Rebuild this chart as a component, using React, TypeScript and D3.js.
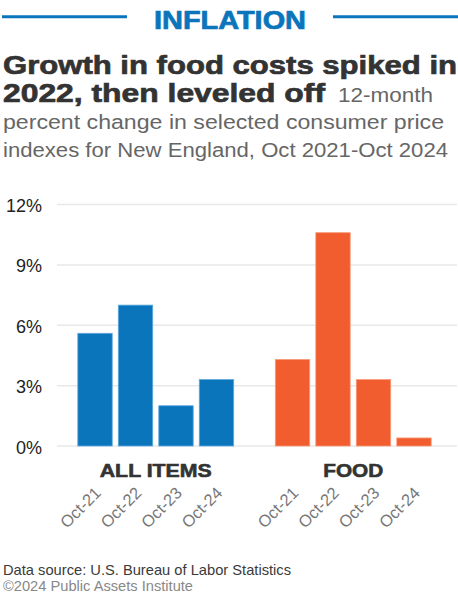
import React from "react";
import * as d3 from "d3";

const groups = ["ALL ITEMS", "FOOD"];
const periods = ["Oct-21", "Oct-22", "Oct-23", "Oct-24"];
const allItems = [5.6, 7.0, 2.0, 3.3];
const food = [4.3, 10.6, 3.3, 0.4];
const yTicks = [0, 3, 6, 9, 12];
const groupColors = ["#0b75bc", "#f15d2e"];
const groupStrokes = ["#5ea9de", "#f89a78"];
const groupLabelWidths = [112, 60];

const W = 458;
const H = 600;

export default function App() {
  const series = [allItems, food];
  const y = d3.scaleLinear().domain([0, 12]).range([446, 204.5]);
  const xOuter = d3
    .scaleBand<string>()
    .domain(groups)
    .range([57, 452])
    .paddingInner(0.18)
    .paddingOuter(0.09);
  const xInner = d3
    .scaleBand<string>()
    .domain(periods)
    .range([0, xOuter.bandwidth()])
    .paddingInner(0.15)
    .paddingOuter(0.075);

  const font = "'Liberation Sans', Arial, Helvetica, sans-serif";
  const sg = "spacingAndGlyphs";

  return (
    <div style={{ position: "absolute", left: 0, top: 0 }}>
      <svg width={W} height={H} style={{ display: "block", background: "#fff" }} fontFamily={font}>
        {/* header */}
        <line x1={2} x2={127} y1={16.7} y2={16.7} stroke="#0b75bc" strokeWidth={3} />
        <line x1={333} x2={458} y1={16.7} y2={16.7} stroke="#0b75bc" strokeWidth={3} />
        <text x={154} y={29} fontSize={25} fontWeight={700} fill="#0b75bc" stroke="#0b75bc" strokeWidth={0.7} textLength={152} lengthAdjust={sg}>
          INFLATION
        </text>
        {/* title */}
        <g stroke="#333" strokeWidth={0.7} fill="#333" fontWeight={700} fontSize={26.5}>
          <text x={3} y={74.3} textLength={454} lengthAdjust={sg}>
            Growth in food costs spiked in
          </text>
          <text x={3} y={102} textLength={322} lengthAdjust={sg}>
            2022, then leveled off
          </text>
        </g>
        <text x={338} y={101.7} fontSize={19.5} fill="#666" textLength={95} lengthAdjust={sg}>
          12-month
        </text>
        <text x={3} y={129.3} fontSize={19.5} fill="#666" textLength={441} lengthAdjust={sg}>
          percent change in selected consumer price
        </text>
        <text x={3} y={156.7} fontSize={19.5} fill="#666" textLength={445} lengthAdjust={sg}>
          indexes for New England, Oct 2021-Oct 2024
        </text>
        {/* gridlines */}
        {yTicks.map((t) => (
          <g key={t}>
            <line x1={57} x2={457} y1={y(t)} y2={y(t)} stroke="#e8e8e8" strokeWidth={1.5} />
            <text x={42} y={y(t) + 7.5} textAnchor="end" fontSize={18} fill="#222">
              {t}%
            </text>
          </g>
        ))}
        {/* bars */}
        {groups.map((g, gi) => (
          <g key={g} transform={`translate(${xOuter(g)},0)`}>
            {periods.map((p, i) => (
              <rect
                key={p}
                x={xInner(p)}
                y={y(series[gi][i])}
                width={xInner.bandwidth()}
                height={y(0) - y(series[gi][i])}
                fill={groupColors[gi]}
                stroke={groupStrokes[gi]}
                strokeWidth={0.8}
              />
            ))}
            <text
              x={xOuter.bandwidth() / 2 - groupLabelWidths[gi] / 2}
              y={476.7}
              fontSize={18.5}
              fontWeight={700}
              fill="#333"
              stroke="#333"
              strokeWidth={0.6}
              textLength={groupLabelWidths[gi]}
              lengthAdjust={sg}
            >
              {g}
            </text>
            {periods.map((p) => {
              const cx = (xInner(p) as number) + xInner.bandwidth() / 2 + 7;
              const cy = 494;
              return (
                <text
                  key={p}
                  x={cx}
                  y={cy}
                  transform={`rotate(-45 ${cx} ${cy})`}
                  textAnchor="end"
                  fontSize={16.5}
                  fill="#777"
                >
                  {p}
                </text>
              );
            })}
          </g>
        ))}
        {/* footer */}
        <text x={3} y={575} fontSize={15} fill="#3a3a3a" textLength={288} lengthAdjust={sg}>
          Data source: U.S. Bureau of Labor Statistics
        </text>
        <text x={3} y={590.5} fontSize={15} fill="#888" textLength={190} lengthAdjust={sg}>
          ©2024 Public Assets Institute
        </text>
      </svg>
    </div>
  );
}
